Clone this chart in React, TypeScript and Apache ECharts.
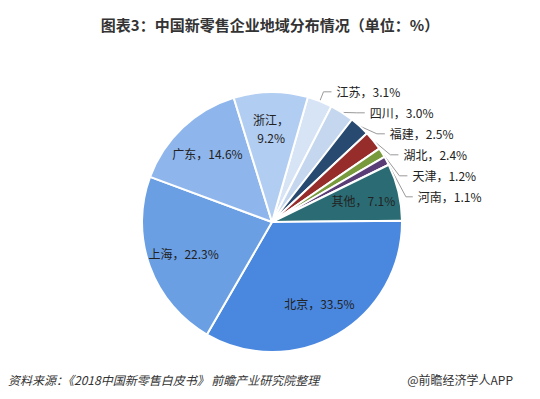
import React, { useEffect, useRef } from "react";
import * as echarts from "echarts";

const regions = ["江苏", "四川", "福建", "湖北", "天津", "河南", "其他", "北京", "上海", "广东", "浙江"];
const shares = [3.1, 3.0, 2.5, 2.4, 1.2, 1.1, 7.1, 33.5, 22.3, 14.6, 9.2];
const colors = ["#d7e4f6", "#c4d7ef", "#284a70", "#962d2b", "#789a3c", "#5a3c76", "#2b6c74", "#4a88df", "#6a9fe4", "#8fb6ec", "#b2cdf2"];
const insideRegions = ["其他", "北京", "上海", "广东", "浙江"];

const titleText = "图表3：中国新零售企业地域分布情况（单位：%）";
const sourceText = "资料来源：《2018中国新零售白皮书》 前瞻产业研究院整理";
const brandText = "@前瞻经济学人APP";

export default function App() {
  const ref = useRef<HTMLDivElement>(null);
  useEffect(() => {
    if (!ref.current) return;
    const chart = echarts.init(ref.current, null, { renderer: "svg" });
    const font = "'Noto Sans CJK SC', 'Noto Sans', sans-serif";
    const baseData = regions.map((name, i) => ({
      name,
      value: shares[i],
      itemStyle: { color: colors[i] },
    }));
    chart.setOption({
      animation: false,
      backgroundColor: "#ffffff",
      title: {
        text: titleText,
        left: "center",
        top: 12,
        textStyle: { fontFamily: font, fontSize: 15, fontWeight: "bold", color: "#333333" },
      },
      graphic: [
        {
          type: "text",
          left: 8,
          top: 373,
          style: { text: sourceText, font: `italic 12px ${font}`, fill: "#333333" },
        },
        {
          type: "text",
          right: 27,
          top: 373,
          style: { text: brandText, font: `12px ${font}`, fill: "#333333" },
        },
      ],
      series: [
        {
          type: "pie",
          center: [272, 222],
          radius: [0, 130],
          startAngle: 74,
          clockwise: true,
          avoidLabelOverlap: true,
          itemStyle: { borderColor: "#ffffff", borderWidth: 2 },
          labelLine: { length: 10, length2: 8, lineStyle: { color: "#999999", width: 1 } },
          label: {
            fontFamily: font,
            fontSize: 12,
            color: "#222222",
            lineHeight: 14,
            padding: [2, 0, 3, 0],
            formatter: (p: any) => `${p.name}，${p.value.toFixed(1)}%`,
          },
          data: baseData.map((d) =>
            insideRegions.includes(d.name)
              ? { ...d, label: { show: false }, labelLine: { show: false } }
              : d
          ),
        },
        {
          type: "pie",
          center: [272, 222],
          radius: [52, 130],
          startAngle: 74,
          clockwise: true,
          silent: true,
          itemStyle: { color: "transparent", borderWidth: 0 },
          label: {
            position: "inside",
            fontFamily: font,
            fontSize: 12,
            color: "#222222",
            lineHeight: 18,
            formatter: (p: any) =>
              p.name === "浙江"
                ? `${p.name}，\n${p.value.toFixed(1)}%`
                : `${p.name}，${p.value.toFixed(1)}%`,
          },
          labelLine: { show: false },
          data: regions.map((name, i) => ({
            name,
            value: shares[i],
            itemStyle: { color: "transparent" },
            label: { show: insideRegions.includes(name) },
          })),
        },
      ],
    });
    return () => chart.dispose();
  }, []);
  return <div ref={ref} style={{ width: 540, height: 399, position: "absolute", left: 0, top: 0 }} />;
}
